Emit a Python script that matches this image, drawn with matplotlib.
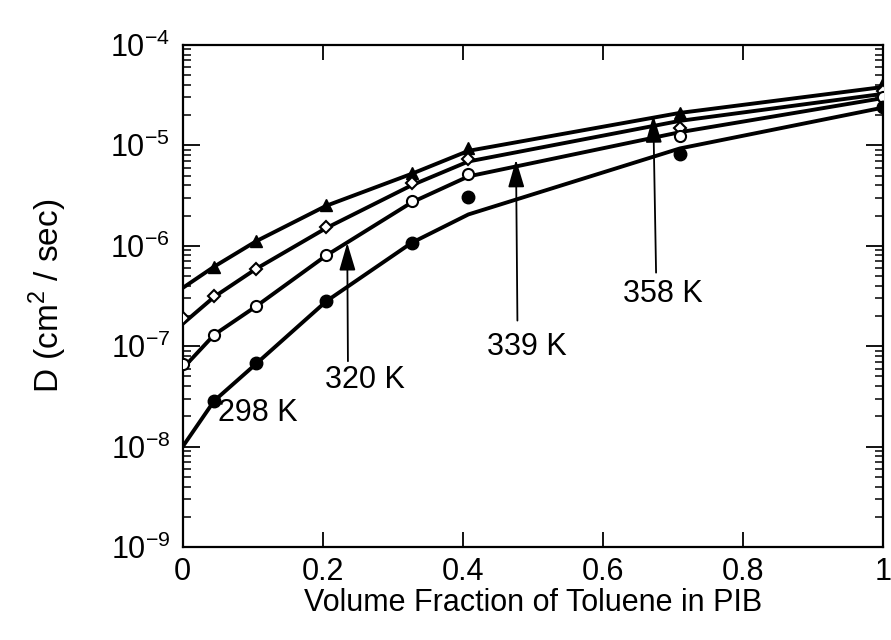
import matplotlib
matplotlib.use('Agg')
import matplotlib.pyplot as plt
from matplotlib.ticker import LogLocator, NullFormatter, FixedLocator

plt.rcParams['font.family'] = ['Liberation Sans', 'DejaVu Sans']
plt.rcParams['mathtext.fontset'] = 'custom'
plt.rcParams['mathtext.rm'] = 'Liberation Sans'

# ----------------------------------------------------------------
# Data (D in cm^2/sec vs volume fraction toluene)
# ----------------------------------------------------------------
x_fit = [0.0, 0.045, 0.105, 0.205, 0.327, 0.408, 0.71, 1.0]
fit_358 = [3.8e-7, 6.2e-7, 1.11e-6, 2.5e-6, 5.2e-6, 8.8e-6, 2.1e-5, 3.8e-5]
fit_339 = [1.67e-7, 3.1e-7, 5.9e-7, 1.5e-6, 4.0e-6, 6.9e-6, 1.75e-5, 3.25e-5]
fit_320 = [6.0e-8, 1.3e-7, 2.5e-7, 8.0e-7, 2.7e-6, 4.9e-6, 1.35e-5, 2.95e-5]
fit_298 = [1.0e-8, 2.86e-8, 6.7e-8, 2.8e-7, 1.07e-6, 2.05e-6, 9.3e-6, 2.37e-5]

x_pts = [0.045, 0.105, 0.205, 0.327, 0.408, 0.71, 1.0]
x_pts0 = [0.0, 0.045, 0.105, 0.205, 0.327, 0.408, 0.71, 1.0]
D_358 = [6.2e-7, 1.11e-6, 2.53e-6, 5.25e-6, 9.4e-6, 2.1e-5, 4.2e-5]
D_339 = [1.9e-7, 3.19e-7, 5.86e-7, 1.52e-6, 4.2e-6, 7.26e-6, 1.5e-5, 3.5e-5]
D_320 = [6.6e-8, 1.30e-7, 2.49e-7, 8.05e-7, 2.79e-6, 5.15e-6, 1.23e-5, 3.0e-5]
D_298 = [2.86e-8, 6.74e-8, 2.82e-7, 1.07e-6, 3.07e-6, 8.2e-6, 2.4e-5]

# arrow labels: text, text position, arrow tail, arrow tip
labels = ['320 K', '339 K', '358 K']
label_xy = [(0.26, 4.6e-8), (0.492, 9.8e-8), (0.685, 3.3e-7)]
tail_xy = [(0.236, 7.1e-8), (0.478, 1.8e-7), (0.676, 5.4e-7)]
tip_xy = [(0.235, 1.07e-6), (0.476, 7.2e-6), (0.672, 2.0e-5)]

x_ticks = [0, 0.2, 0.4, 0.6, 0.8, 1.0]
x_ticklabels = ['0', '0.2', '0.4', '0.6', '0.8', '1']
y_ticks = [1e-9, 1e-8, 1e-7, 1e-6, 1e-5, 1e-4]

# ----------------------------------------------------------------
# Figure
# ----------------------------------------------------------------
fig = plt.figure(figsize=(8.91, 6.40), dpi=100)
ax = fig.add_axes([0.205, 0.145, 0.786, 0.785])

lw = 2.8
for yy in [fit_358, fit_339, fit_320, fit_298]:
  ax.plot(x_fit, yy, color='black', lw=lw, zorder=2)

ax.plot(x_pts, D_358, ls='none', marker='^', ms=9, color='black', zorder=3)
ax.plot(x_pts0, D_339, ls='none', marker='D', ms=6, mfc='white', mec='black', mew=1.5, zorder=3)
ax.plot(x_pts0, D_320, ls='none', marker='o', ms=8, mfc='white', mec='black', mew=1.5, zorder=3)
ax.plot(x_pts, D_298, ls='none', marker='o', ms=9, color='black', zorder=3)

# 298 K label sits next to its first point
ax.text(0.107, 2.16e-8, '298 K', fontsize=22, ha='center', va='center')

for lab, txy, a, b in zip(labels, label_xy, tail_xy, tip_xy):
  ax.text(txy[0], txy[1], lab, fontsize=22, ha='center', va='center')
  ax.annotate('', xy=b, xytext=a,
              arrowprops=dict(arrowstyle='-|>,head_length=1.7,head_width=0.5',
                              color='black', lw=1.3, shrinkA=0, shrinkB=0))

ax.set_yscale('log')
ax.set_xlim(0, 1)
ax.set_ylim(1e-9, 1e-4)

ax.xaxis.set_major_locator(FixedLocator(x_ticks))
ax.set_xticklabels(x_ticklabels)
ax.yaxis.set_major_locator(FixedLocator(y_ticks))
ax.set_yticklabels(['$\\mathdefault{10^{-%d}}$' % k for k in range(9, 3, -1)])
ax.yaxis.set_minor_locator(LogLocator(base=10, subs=range(2, 10), numticks=20))
ax.yaxis.set_minor_formatter(NullFormatter())

ax.tick_params(which='major', direction='in', length=12, width=1.3,
               top=True, right=True, labelsize=22, pad=9)
ax.tick_params(which='minor', direction='in', length=6, width=1.1, right=True)
ax.tick_params(axis='x', which='major', pad=7, length=11)

for s in ax.spines.values():
  s.set_linewidth(1.6)

ax.set_xlabel('Volume Fraction of Toluene in PIB', fontsize=22, labelpad=1)
ax.set_ylabel('D (cm$^2$ / sec)', fontsize=24, labelpad=30)

fig.savefig('out.png', dpi=100)
plt.close('all')
